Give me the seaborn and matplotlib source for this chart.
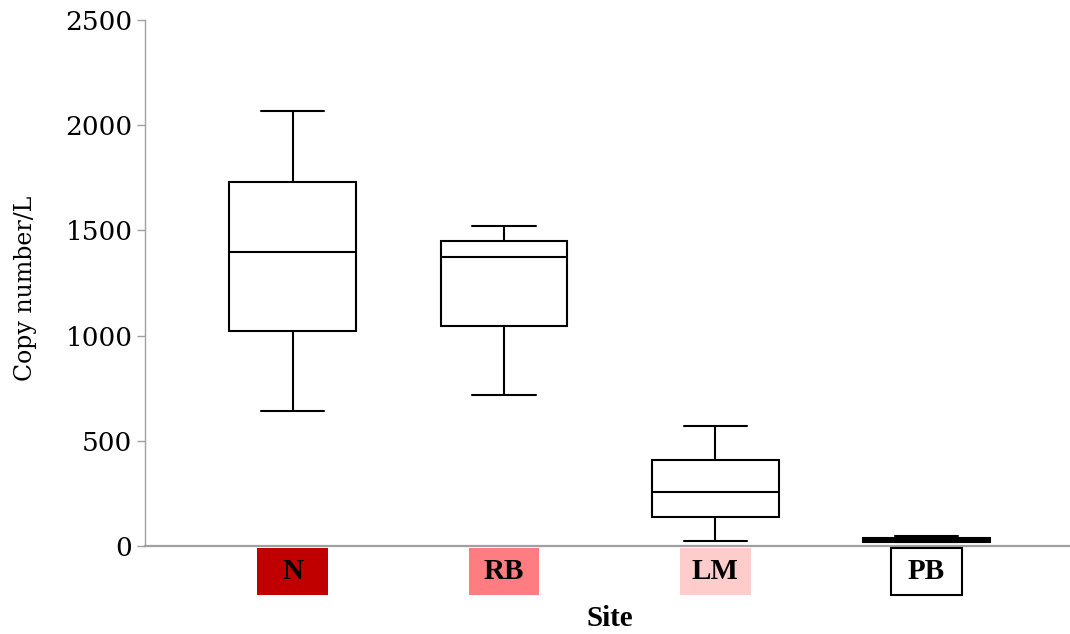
import numpy as np
import pandas as pd
import matplotlib
matplotlib.use("Agg")
import matplotlib.pyplot as plt
import seaborn as sns
from matplotlib.patches import Rectangle

# Five-number summaries (min, Q1, median, Q3, max) per site
sites = ["N", "RB", "LM", "PB"]
n_vals = [642, 1022, 1397, 1730, 2067]
rb_vals = [718, 1046, 1374, 1450, 1521]
lm_vals = [24, 138, 257, 409, 570]
pb_vals = [17, 19, 28, 38, 47]
label_colors = ["#c00000", "#ff7c80", "#ffcccc", "#ffffff"]
yticks = [0, 500, 1000, 1500, 2000, 2500]

sns.set_theme(style="white")
plt.rcParams["font.family"] = ["DejaVu Serif"]
plt.rcParams["text.color"] = "black"
plt.rcParams["axes.labelcolor"] = "black"
plt.rcParams["ytick.labelcolor"] = "black"

df = pd.DataFrame({
    "Site": np.repeat(sites, 5),
    "Copy": n_vals + rb_vals + lm_vals + pb_vals,
})

fig = plt.figure(figsize=(10.7, 6.34), dpi=100)
ax = fig.add_axes([0.1355, 0.1388, 0.8645, 0.8297])

line_kw = dict(color="black", linewidth=1.5)
sns.boxplot(data=df, x="Site", y="Copy", order=sites, whis=np.inf, width=0.6,
            color="white", linecolor="black", linewidth=1.5, ax=ax,
            medianprops=line_kw, whiskerprops=line_kw, capprops=line_kw,
            showfliers=False)

ax.set_xlim(-0.70, 3.68)
ax.set_ylim(0, 2500)
ax.set_yticks(yticks)
ax.set_yticklabels([str(t) for t in yticks], fontsize=19)
ax.tick_params(axis="y", direction="out", length=6, width=1, color="#a0a0a0",
               left=True, pad=3, labelcolor="black")
ax.tick_params(axis="x", bottom=False, labelbottom=False)
ax.set_xlabel("")
ax.set_ylabel("Copy number/L", fontsize=17, color="black")
ax.yaxis.set_label_coords(-0.117, 0.49)

for side in ["top", "right"]:
    ax.spines[side].set_visible(False)
ax.spines["left"].set_color("#a0a0a0")
ax.spines["left"].set_linewidth(1.0)
ax.spines["bottom"].set_color("#a0a0a0")
ax.spines["bottom"].set_linewidth(1.6)

trans = ax.get_xaxis_transform()
bw, y0, bh = 0.335, -0.094, 0.090
for i, (s, c) in enumerate(zip(sites, label_colors)):
    ec = "black" if c == "#ffffff" else "none"
    ax.add_patch(Rectangle((i - bw / 2, y0), bw, bh, transform=trans,
                           facecolor=c, edgecolor=ec, linewidth=1.5,
                           clip_on=False, zorder=5))
    ax.text(i, y0 + bh / 2, s, transform=trans, ha="center", va="center",
            fontsize=21, fontweight="bold", zorder=6, clip_on=False,
            family="Liberation Serif", color="black")

ax.text(1.5, -0.138, "Site", transform=trans, ha="center", va="center",
        fontsize=21, fontweight="bold", family="Liberation Serif", color="black")

fig.savefig("out.png", dpi=100)
